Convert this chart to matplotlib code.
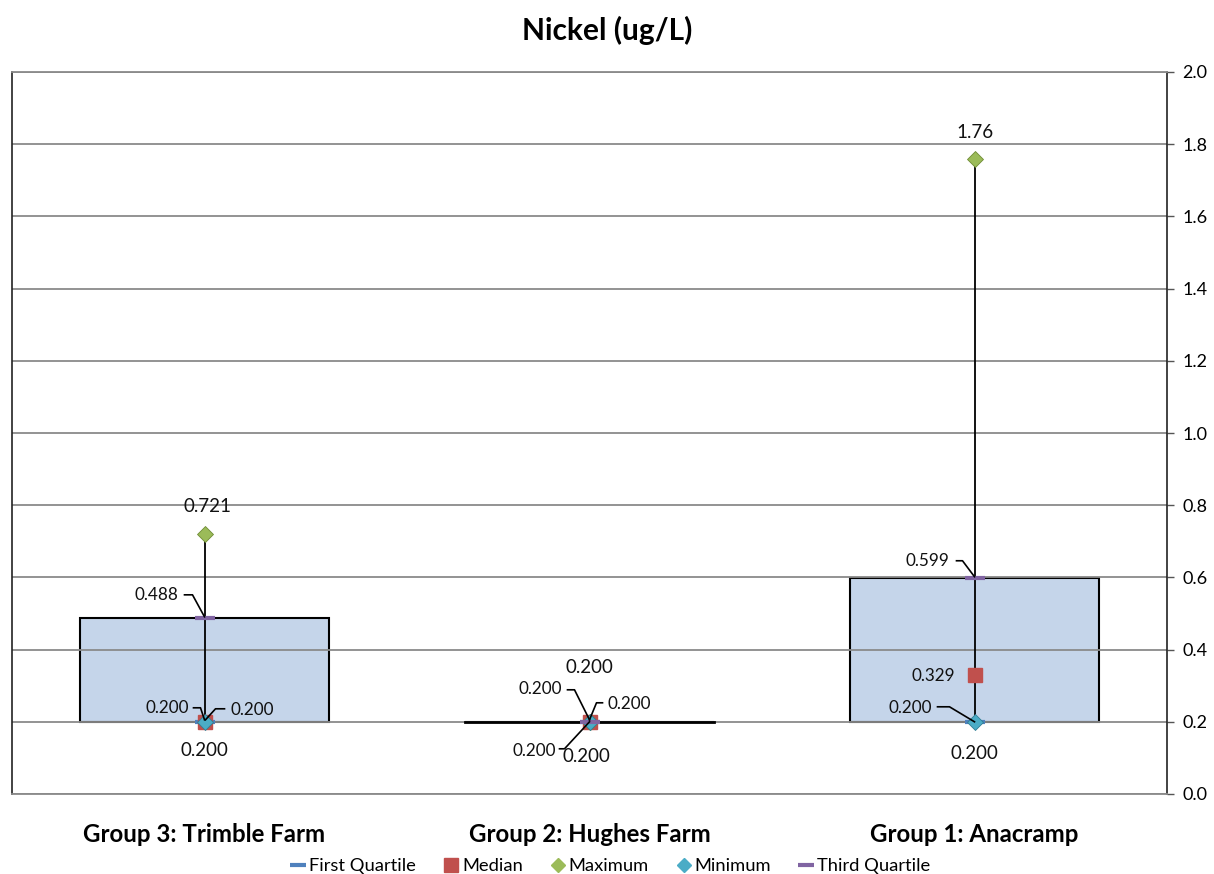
import matplotlib
matplotlib.use("Agg")
import matplotlib.pyplot as plt
from matplotlib.lines import Line2D
import numpy as np

plt.rcParams['font.family'] = ['Lato', 'DejaVu Sans']

# ---- data ----
groups = ["Group 3: Trimble Farm", "Group 2: Hughes Farm", "Group 1: Anacramp"]
first_quartile = [0.200, 0.200, 0.200]
median = [0.200, 0.200, 0.329]
maximum = [0.721, 0.200, 1.76]
minimum = [0.200, 0.200, 0.200]
third_quartile = [0.488, 0.200, 0.599]
y_ticks = [0.0, 0.2, 0.4, 0.6, 0.8, 1.0, 1.2, 1.4, 1.6, 1.8, 2.0]

series = {
    "First Quartile": first_quartile,
    "Median": median,
    "Maximum": maximum,
    "Minimum": minimum,
    "Third Quartile": third_quartile,
}

c_q1 = "#4F81BD"
c_med = "#C0504D"
c_max = "#9BBB59"
c_min = "#4BACC6"
c_q3 = "#8064A2"
box_fill = "#C5D5EA"

W, H = 1214, 874
fig = plt.figure(figsize=(W / 100, H / 100), dpi=100)
ax = fig.add_axes([12 / W, 80 / H, 1155 / W, 722 / H])
ax.set_xlim(-0.5, 2.5)
ax.set_ylim(0, 2.0)

x = np.arange(len(groups))

# grid lines drawn over the boxes
for t in y_ticks:
    ax.axhline(t, color="#8a8a8a", lw=1.3, zorder=2)

# interquartile boxes
q1 = np.array(first_quartile)
q3 = np.array(third_quartile)
ax.bar(x, q3 - q1, bottom=q1, width=0.645, color=box_fill,
       edgecolor="black", linewidth=1.5, zorder=1)
# zero-height boxes still show their outline
for xi, a, b in zip(x, q1, q3):
    if b - a == 0:
        ax.plot([xi - 0.3225, xi + 0.3225], [a, a], color="black", lw=2, zorder=3)

# whiskers
ax.vlines(x, minimum, maximum, color="black", lw=1.3, zorder=3)

# markers
ax.plot(x, first_quartile, ls="none", marker="_", ms=14, mew=3, color=c_q1, zorder=4)
ax.plot(x, third_quartile, ls="none", marker="_", ms=14, mew=3, color=c_q3, zorder=6)
ax.plot(x, median, ls="none", marker="s", ms=10, color=c_med, mec=c_med, zorder=4)
ax.plot(x, maximum, ls="none", marker="D", ms=8.5, color=c_max, mec="#6f8c35", mew=0.6, zorder=5)
ax.plot(x, minimum, ls="none", marker="D", ms=8.5, color=c_min, mec="#2f7d93", mew=0.6, zorder=5)

# axes styling
ax.yaxis.tick_right()
ax.set_yticks(y_ticks)
ax.set_yticklabels([f"{t:.1f}" for t in y_ticks], fontsize=13)
ax.tick_params(axis="y", direction="out", length=5, width=1, color="#555555", pad=6)
ax.set_xticks(x)
ax.set_xticklabels(groups, fontsize=17.3, fontweight="bold")
ax.tick_params(axis="x", length=0, pad=21)
for side in ["left", "right"]:
    ax.spines[side].set_color("#222222")
    ax.spines[side].set_linewidth(1.2)
for side in ["top", "bottom"]:
    ax.spines[side].set_color("#8a8a8a")
    ax.spines[side].set_linewidth(1.3)

fig.text(0.5, 1 - 30 / H, "Nickel (ug/L)", ha="center", va="center",
         fontsize=21.5, fontweight="bold")


def fmt(v):
    return f"{v:.2f}" if v >= 1 else f"{v:.3f}"


def px_to_data(xd, yd, dx, dy):
    disp = ax.transData.transform((xd, yd)) + np.array([dx, dy])
    return ax.transData.inverted().transform(disp)


# data labels: (series, group, text offset px, alignment, size, leader offsets px)
labels = [
    ("Maximum", 0, (3, 27), "center", 13.5, None),
    ("Third Quartile", 0, (-26, 23), "right", 12.3, [(-20, 23), (-12, 23), (0, 1)]),
    ("Minimum", 0, (-16, 14), "right", 12.3, [(-11, 14), (-4, 14), (0, 2)]),
    ("Median", 0, (26, 12), "left", 12.3, [(20, 13), (11, 13), (1, 2)]),
    ("First Quartile", 0, (0, -29), "center", 13.5, None),

    ("Maximum", 1, (0, 54), "center", 13.5, None),
    ("Third Quartile", 1, (-28, 33), "right", 12.3, [(-22, 32), (-15, 32), (0, 2)]),
    ("Median", 1, (18, 18), "left", 12.3, [(13, 19), (7, 19), (0, 2)]),
    ("Minimum", 1, (-34, -29), "right", 12.3, [(-30, -27), (-25, -27), (0, 0)]),
    ("First Quartile", 1, (-3, -35), "center", 13.5, None),

    ("Maximum", 2, (0, 26), "center", 13.5, None),
    ("Third Quartile", 2, (-25, 17), "right", 12.3, [(-18, 17), (-12, 17), (0, 1)]),
    ("Median", 2, (-19, -1), "right", 12.3, None),
    ("Minimum", 2, (-43, 14), "right", 12.3, [(-37, 15), (-25, 15), (0, 0)]),
    ("First Quartile", 2, (0, -32), "center", 13.5, None),
]

for name, gi, (dx, dy), ha, fs, leader in labels:
    v = series[name][gi]
    ax.annotate(fmt(v), xy=(x[gi], v), xytext=(dx, dy), textcoords="offset pixels",
                ha=ha, va="center", fontsize=fs, color="#111111", zorder=8)
    if leader:
        pts = np.array([px_to_data(x[gi], v, ox, oy) for ox, oy in leader])
        ax.add_line(Line2D(pts[:, 0], pts[:, 1], color="black", lw=1.2, zorder=7))

# legend
handles = [
    Line2D([], [], ls="none", marker="_", ms=11, mew=3, color=c_q1),
    Line2D([], [], ls="none", marker="s", ms=10, color=c_med),
    Line2D([], [], ls="none", marker="D", ms=7.5, color=c_max),
    Line2D([], [], ls="none", marker="D", ms=7.5, color=c_min),
    Line2D([], [], ls="none", marker="_", ms=11, mew=3, color=c_q3),
]
fig.legend(handles, list(series.keys()), loc="center", ncol=5, frameon=False,
           bbox_to_anchor=(0.503, 1 - 866 / H), fontsize=13.2, handlelength=0.8,
           handletextpad=0.2, columnspacing=1.5)

fig.savefig("out.png", dpi=100)
